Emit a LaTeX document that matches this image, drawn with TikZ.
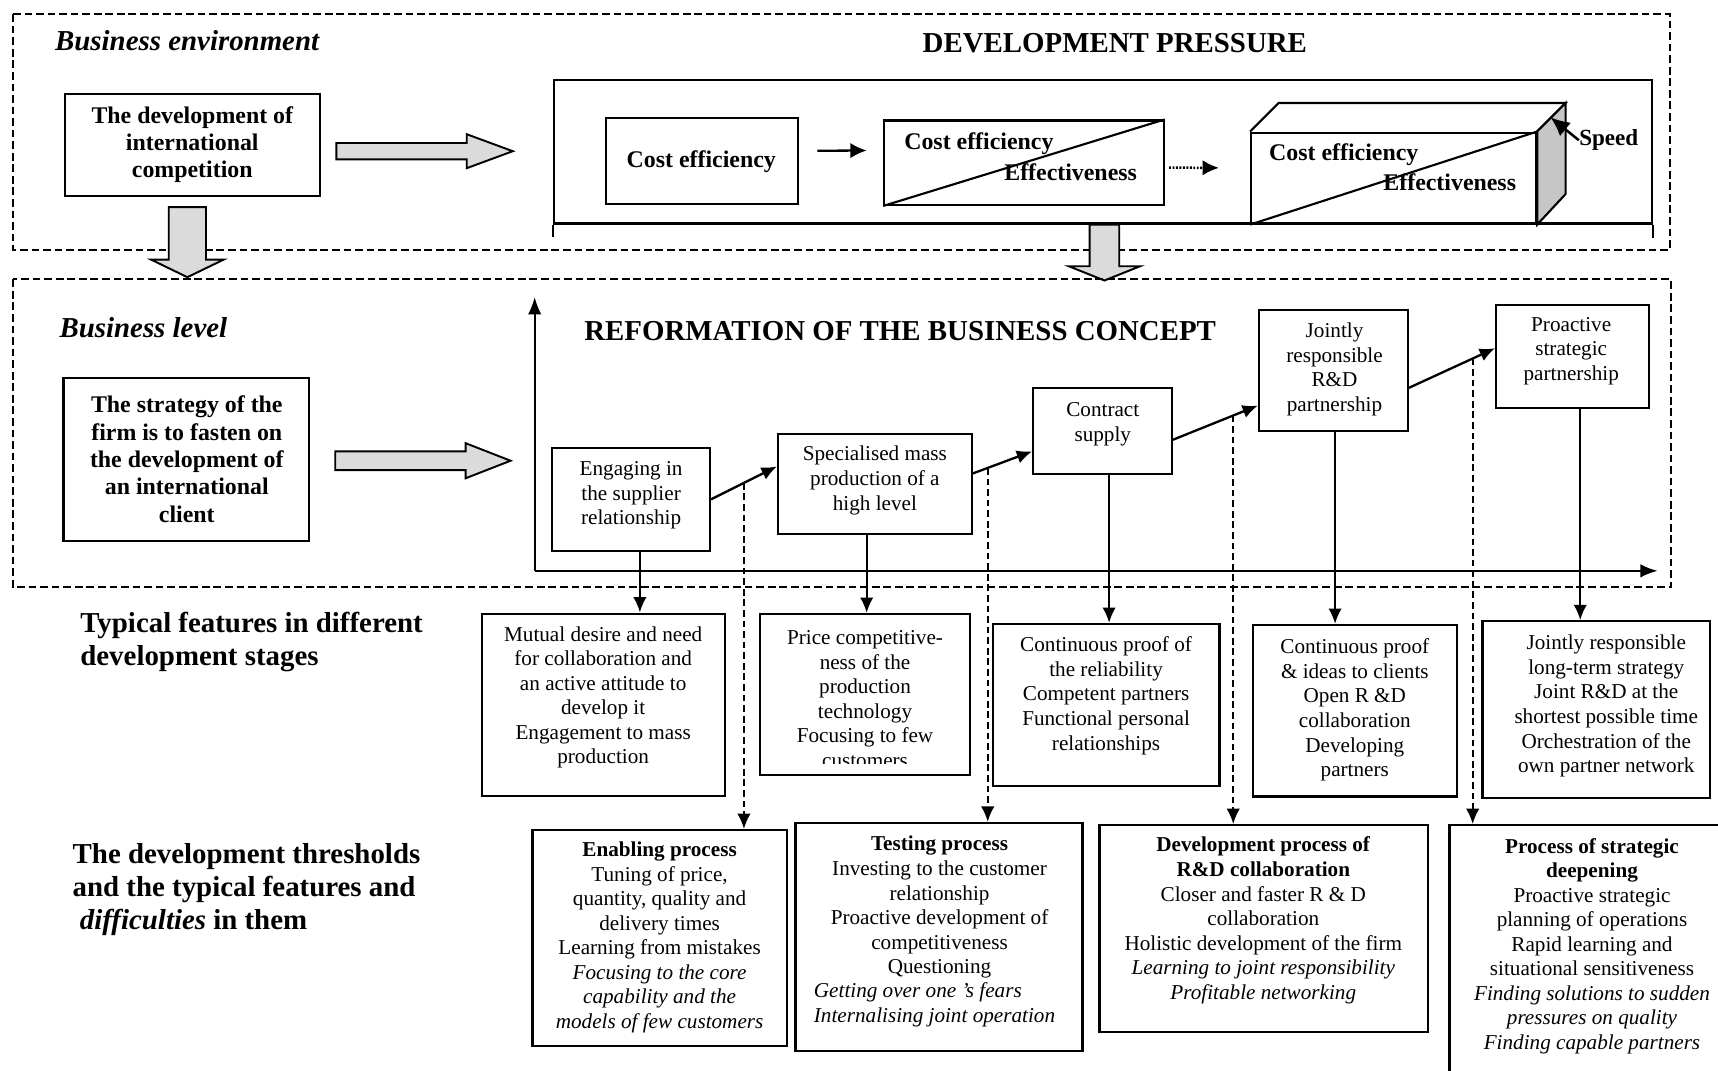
\documentclass[tikz,border=0pt]{standalone}
\usepackage{fontspec}
\setmainfont{Liberation Serif}
\usetikzlibrary{arrows.meta,calc}

% hollow shaded block arrows
\newcommand\fatright[6]{% x-start, x-headbase, x-tip, y, half shaft, half head
  \draw[fat] (#1,#4-#5) -- (#2,#4-#5) -- (#2,#4-#6) -- (#3,#4) -- (#2,#4+#6) -- (#2,#4+#5) -- (#1,#4+#5) -- cycle;}
\newcommand\fatdown[6]{% x, y-top, y-headbase, y-tip, half shaft, half head
  \draw[fat] (#1-#5,#2) -- (#1+#5,#2) -- (#1+#5,#3) -- (#1+#6,#3) -- (#1,#4) -- (#1-#6,#3) -- (#1-#5,#3) -- cycle;}

\begin{document}
\begin{tikzpicture}[x=0.02cm,y=-0.02cm,
  frame/.style={draw, line width=1.1pt, inner sep=0pt},
  sz/.style 2 args={minimum width=#1*0.02cm, minimum height=#2*0.02cm},
  edge/.style={line width=1.1pt, line join=miter},
  bodytxt/.style={align=center, inner sep=0pt, font=\fontsize{11}{12.75}\selectfont},
  boldtxt/.style={align=center, inner sep=0pt, font=\fontsize{12.4}{14.2}\selectfont\bfseries},
  headtxt/.style={align=left, inner sep=0pt, font=\fontsize{15}{17}\selectfont\bfseries},
  zone/.style={draw, line width=1pt, dash pattern=on 4pt off 2pt},
  arr/.style={line width=1.2pt, -{Latex[length=8pt,width=7pt]}},
  bigarr/.style={line width=1.2pt, -{Latex[length=8.5pt,width=8pt]}},
  dotarr/.style={line width=1.3pt, dash pattern=on 1pt off 0.8pt, -{Latex[length=8.5pt,width=8pt]}},
  dasharr/.style={line width=0.9pt, dash pattern=on 3.5pt off 2pt, -{Latex[length=8pt,width=7pt]}},
  axis/.style={line width=1.2pt, -{Latex[length=9pt,width=7pt]}},
  fat/.style={draw, line width=1pt, fill=gray!28, line join=miter}
]
\useasboundingbox (0,0) rectangle (1568,977);

% ---------- business environment ----------
\draw[zone] (12,13) rectangle (1524,228);
\node[headtxt, anchor=west] (lblenv) at (50,37) {\itshape Business environment};
\node[headtxt, anchor=center] (dptitle) at (1017.5,39) {DEVELOPMENT PRESSURE};

\node[frame, sz={233}{93}] (env) at (175.5,132.5) {};
\node[boldtxt] (envt) at (175.5,132) {The development of\\international\\competition};
\fatright{307}{426}{468}{138}{7.5}{15.5}
\fatdown{171}{189}{237}{253}{17}{33}

% development pressure frame
\node[frame, sz={1002}{131}] (dp) at (1007,138.5) {};
\draw[edge] (dp.south west) -- ++(0,11);
\draw[edge] (dp.south east) -- ++(0,12);

\node[frame, sz={175}{78}] (ce1) at (640.5,147) {};
\node[boldtxt] (ce1t) at (640,148) {Cost efficiency};

\node[frame, sz={255}{77}] (ce2) at (934.5,148.5) {};
\draw[edge] (ce2.south west) -- (ce2.north east);
\node[boldtxt, anchor=west] (ce2a) at (825,131) {Cost efficiency};
\node[boldtxt, anchor=east] (ce2b) at (1038,157) {Effectiveness};

% cost / effectiveness / speed block
\node[frame, sz={260}{83}] (fr) at (1272,162.5) {};
\draw[edge] (fr.north west) -- ++(26,-26) -- ($(fr.north east)+(26,-26)$) -- (fr.north east);
\draw[edge, fill=gray!45] (fr.north east) -- ++(26,-26) -- ++(0,83) -- (fr.south east) -- cycle;
\draw[edge] (fr.south west) -- (fr.north east);
\node[boldtxt, anchor=west] (fra) at (1158,141.5) {Cost efficiency};
\node[boldtxt, anchor=east] (frb) at (1384,166) {Effectiveness};
\node[boldtxt, anchor=west, font=\fontsize{12}{14}\selectfont\bfseries] (speed) at (1441,128) {Speed};
\coordinate (sptip) at (1415,107);
\draw[line width=1.3pt, -{Latex[length=10pt,width=9pt]}] (speed.west) -- (sptip);

\draw[bigarr, shorten <=0.34cm, shorten >=0.3cm] (ce1.6) -- (ce2.175);
\draw[dotarr, shorten <=0.08cm, shorten >=0.57cm] (ce2.-2) -- (fr.176);

\fatdown{1008}{205}{243}{256}{13.5}{32.5}

% ---------- business level ----------
\draw[zone] (12,255) rectangle (1525,536);
\node[headtxt, anchor=west] (lblbiz) at (54,299) {\itshape Business level};
\node[frame, sz={224}{149}] (strat) at (170,419.5) {};
\node[boldtxt] (stratt) at (170.5,419) {The strategy of the\\firm is to fasten on\\the development of\\an international\\client};
\fatright{306}{425}{466}{420.5}{8.5}{16}

\coordinate (orig) at (488,521);
\draw[axis] (orig) -- (488,271);
\draw[axis] (orig) -- (1513,521);
\node[headtxt, anchor=west] (reftitle) at (533,302) {REFORMATION OF THE BUSINESS CONCEPT};

% stages
\node[frame, sz={144}{93.5}] (s1) at (576,455.75) {};
\node[bodytxt] (s1t) at (576,452) {Engaging in\\the supplier\\relationship};
\node[frame, sz={177}{91}] (s2) at (798.5,441.5) {};
\node[bodytxt] (s2t) at (798.5,438.5) {Specialised mass\\production of a\\high level};
\node[frame, sz={126.5}{79}] (s3) at (1006.25,393.5) {};
\node[bodytxt] (s3t) at (1006.5,387) {Contract\\supply};
\node[frame, sz={136}{110}] (s4) at (1217,338) {};
\node[bodytxt] (s4t) at (1218,337) {Jointly\\responsible\\R\&D\\partnership};
\node[frame, sz={139.5}{94.5}] (s5) at (1435.25,325.25) {};
\node[bodytxt] (s5t) at (1434,320.5) {Proactive\\strategic\\partnership};

\draw[arr] (s1.east) -- coordinate[pos=0.5] (d1) (s2.170);
\draw[arr] (s2.6) -- coordinate[pos=0.25] (d2) (s3.196);
\draw[arr] (s3.-7) -- coordinate[pos=0.71] (d3) (s4.205);
\draw[arr] (s4.-13) -- coordinate[pos=0.74] (d4) (s5.174);

% ---------- typical features ----------
\node[headtxt, anchor=west] (lblfeat) at (73,586) {Typical features in different\\development stages};

\node[frame, sz={222.3}{166.5}] (f1) at (550.85,643.25) {};
\node[bodytxt] (f1t) at (550.5,636.5) {Mutual desire and need\\for collaboration and\\an active attitude to\\develop it\\Engagement to mass\\production};

\node[frame, sz={191}{147}] (f2) at (789.5,633.85) {};
\begin{scope}
  \clip (f2.north west) rectangle (885,697);
  \node[bodytxt] (f2t) at (789.5,638) {Price competitive-\\ness of the\\production\\technology\\Focusing to few\\customers};
\end{scope}

\node[frame, sz={207}{147.5}] (f3) at (1009.5,643.25) {};
\node[bodytxt] (f3t) at (1009.5,635) {Continuous proof of\\the reliability\\Competent partners\\Functional personal\\relationships};

\node[frame, sz={186}{156.6}] (f4) at (1236.5,648.7) {};
\node[bodytxt] (f4t) at (1236.5,648) {Continuous proof\\\& ideas to clients\\Open R \&D\\collaboration\\Developing\\partners};

\node[frame, sz={208}{161}] (f5) at (1457,647.5) {};
\node[bodytxt] (f5t) at (1466,644.5) {Jointly responsible\\long-term strategy\\Joint R\&D at the\\shortest possible time\\Orchestration of the\\own partner network};

\coordinate (v1) at ($(s1.south)+(8,0)$);
\coordinate (v2) at ($(s2.south)+(-7.5,0)$);
\coordinate (v3) at ($(s3.south)+(6,0)$);
\coordinate (v4) at ($(s4.south)+(1.5,0)$);
\coordinate (v5) at ($(s5.south)+(7,0)$);
\draw[arr] (v1) -- (v1 |- f1.north);
\draw[arr] (v2) -- (v2 |- f2.north);
\draw[arr] (v3) -- (v3 |- f3.north);
\draw[arr] (v4) -- (v4 |- f4.north);
\draw[arr] (v5) -- (v5 |- f5.north);

% ---------- development thresholds ----------
\node[headtxt, anchor=west] (lblthr) at (66,812) {The development thresholds\\and the typical features and\\\hspace*{0.25em}\textit{difficulties} in them};

\node[frame, sz={232}{197}] (t1) at (602,856) {};
\node[bodytxt] (t1t) at (602,855.5) {\textbf{Enabling process}\\Tuning of price,\\quantity, quality and\\delivery times\\Learning from mistakes\\\textit{Focusing to the core}\\\textit{capability and the}\\\textit{models of few customers}};

\node[frame, sz={262}{208}] (t2) at (857,855) {};
\node[bodytxt] (t2t) at (857.5,828) {\textbf{Testing process}\\Investing to the  customer\\relationship\\Proactive development of\\competitiveness\\Questioning};
\node[bodytxt, align=left, anchor=west] (t2i) at (742.5,917) {\textit{Getting over one 's fears}\\\textit{Internalising joint operation}};

\node[frame, sz={299.5}{188.6}] (t3) at (1153.25,847.3) {};
\node[bodytxt] (t3t) at (1153,840) {\textbf{Development process of}\\\textbf{R\&D collaboration}\\Closer and faster R \& D\\collaboration\\Holistic development of the firm\\\textit{Learning to joint responsibility}\\\textit{Profitable networking}};

\node[frame, sz={267}{247}] (t4) at (1456.4,876.5) {};
\node[bodytxt] (t4t) at (1453,863.5) {\textbf{Process of strategic}\\\textbf{deepening}\\Proactive strategic\\planning of operations\\Rapid learning and\\situational sensitiveness\\\textit{Finding solutions to sudden}\\\textit{pressures on quality}\\\textit{Finding capable partners}};

\draw[dasharr] (d1) -- (d1 |- t1.north);
\draw[dasharr] (d2) -- (d2 |- t2.north);
\draw[dasharr] (d3) -- (d3 |- t3.north);
\draw[dasharr] (d4) -- (d4 |- t4.north);

\end{tikzpicture}
\end{document}
